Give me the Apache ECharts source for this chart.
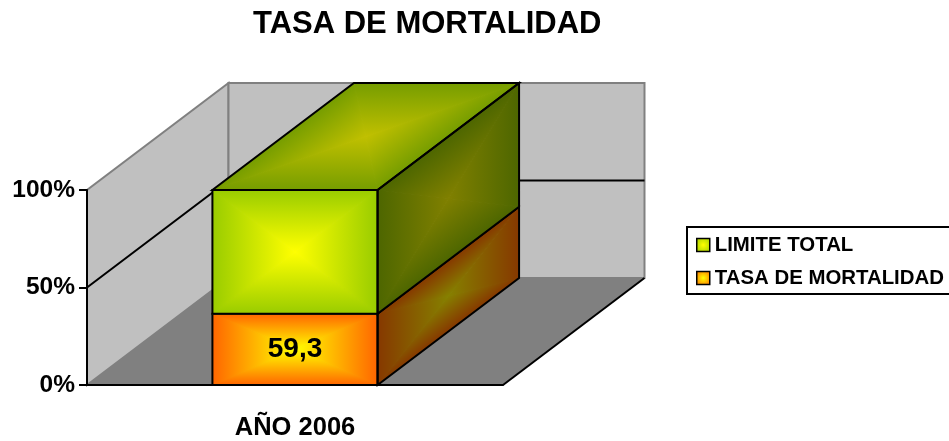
<!DOCTYPE html>
<html>
<head>
<meta charset="utf-8">
<title>Tasa de mortalidad</title>
<script src="https://cdn.jsdelivr.net/npm/echarts@6/dist/echarts.min.js"></script>
<style>
    html, body { margin: 0; padding: 0; background: #fff; }
    #main { width: 949px; height: 441px; }
</style>
</head>
<body>
<div id="main"></div>
<script>
// datos
var categories = ['AÑO 2006']
var limiteTotal = [103]
var tasaMortalidad = [59.3]
var yTicks = [0, 50, 100]

var FONT = '"Liberation Sans", Arial, Helvetica, sans-serif'
// desplazamiento de profundidad (efecto 3D)
var DEPTH_X = 141.5
var DEPTH_Y = -107
var BAR_RATIO = 0.397

// apilado 100%
var totals = categories.map(function (c, i) { return tasaMortalidad[i] + limiteTotal[i] })
var tasaData = categories.map(function (c, i) {
    return [i, 0, tasaMortalidad[i] / totals[i] * 100, tasaMortalidad[i]]
})
var limiteData = categories.map(function (c, i) {
    return [i, tasaMortalidad[i] / totals[i] * 100, 100, limiteTotal[i]]
})

// degradado rectangular "desde el centro", como en Excel
function shadedFace(pts, center, edge) {
    var n = pts.length
    var m = [0, 0]
    pts.forEach(function (p) { m[0] += p[0] / n; m[1] += p[1] / n })
    var out = []
    for (var i = 0; i < n; i++) {
        var P = pts[i], Q = pts[(i + 1) % n]
        var dx = Q[0] - P[0], dy = Q[1] - P[1]
        var t = ((m[0] - P[0]) * dx + (m[1] - P[1]) * dy) / (dx * dx + dy * dy)
        var f = [P[0] + t * dx, P[1] + t * dy]
        var grad = new echarts.graphic.LinearGradient(f[0], f[1], m[0], m[1], [
            {offset: 0, color: edge}, {offset: 1, color: center}
        ], true)
        out.push({
            type: 'polygon',
            shape: {points: [P, Q, m]},
            style: {fill: grad, stroke: grad, lineWidth: 1}
        })
    }
    return out
}

function outline(pts) {
    return {type: 'polygon', shape: {points: pts}, style: {fill: null, stroke: '#000', lineWidth: 2}}
}

function barRenderer(colors, isTop, showLabel) {
    return function (params, api) {
        var cat = api.value(0)
        var p0 = api.coord([cat, api.value(1)])
        var p1 = api.coord([cat, api.value(2)])
        var bw = api.size([1, 0])[0] * BAR_RATIO
        var xl = p0[0] - bw / 2, xr = p0[0] + bw / 2
        var yb = p0[1], yt = p1[1]
        var dx = DEPTH_X, dy = DEPTH_Y

        var front = [[xl, yt], [xr, yt], [xr, yb], [xl, yb]]
        var side = [[xr, yt], [xr + dx, yt + dy], [xr + dx, yb + dy], [xr, yb]]
        var top = [[xl, yt], [xr, yt], [xr + dx, yt + dy], [xl + dx, yt + dy]]

        var children = []
        children = children.concat(shadedFace(side, colors.sideC, colors.sideE))
        if (isTop) children = children.concat(shadedFace(top, colors.topC, colors.topE))
        children = children.concat(shadedFace(front, colors.frontC, colors.frontE))
        children.push(outline(side))
        if (isTop) children.push(outline(top))
        children.push(outline(front))
        if (showLabel) {
            children.push({
                type: 'text',
                style: {
                    text: String(api.value(3)).replace('.', ','),
                    x: (xl + xr) / 2, y: (yt + yb) / 2,
                    align: 'center', verticalAlign: 'middle',
                    fontFamily: FONT, fontWeight: 'bold', fontSize: 28, fill: '#000'
                }
            })
        }
        return {type: 'group', children: children}
    }
}

function renderWalls(params, api) {
    var cs = params.coordSys
    var x0 = cs.x, x1 = cs.x + cs.width
    var yAt = function (v) { return api.coord([0, v])[1] }
    var yb = yAt(yTicks[0]), yt = yAt(yTicks[yTicks.length - 1])
    var dx = DEPTH_X, dy = DEPTH_Y
    var children = [
        {type: 'polygon', shape: {points: [[x0, yb], [x1, yb], [x1 + dx, yb + dy], [x0 + dx, yb + dy]]},
            style: {fill: '#808080', stroke: '#9a9a9a', lineWidth: 1}},
        {type: 'polygon', shape: {points: [[x0, yb], [x0, yt], [x0 + dx, yt + dy], [x0 + dx, yb + dy]]},
            style: {fill: '#c0c0c0', stroke: '#808080', lineWidth: 2}},
        {type: 'polygon', shape: {points: [[x0 + dx, yt + dy], [x1 + dx, yt + dy], [x1 + dx, yb + dy], [x0 + dx, yb + dy]]},
            style: {fill: '#c0c0c0', stroke: '#808080', lineWidth: 2}}
    ]
    yTicks.slice(1, -1).forEach(function (v) {
        var y = yAt(v)
        children.push({type: 'polyline', shape: {points: [[x0, y], [x0 + dx, y + dy], [x1 + dx, y + dy]]},
            style: {stroke: '#000', lineWidth: 2, fill: null}})
    })
    children.push({type: 'line', shape: {x1: x1, y1: yb, x2: x1 + dx, y2: yb + dy},
        style: {stroke: '#000', lineWidth: 2}})
    return {type: 'group', children: children}
}

var greenColors = {
    frontC: '#ffff00', frontE: '#99cc00',
    sideC: '#808000', sideE: '#4d6600',
    topC: '#c0c000', topE: '#769d00'
}
var orangeColors = {
    frontC: '#ffff00', frontE: '#ff6600',
    sideC: '#868000', sideE: '#863800',
    topC: '#c0c000', topE: '#c04e00'
}

var myChart = echarts.init(document.getElementById('main'))

myChart.setOption({
    animation: false,
    backgroundColor: '#fff',
    title: {
        text: 'TASA DE MORTALIDAD',
        left: 253,
        top: 9,
        padding: 0,
        textStyle: {fontFamily: FONT, fontWeight: 'bold', fontSize: 31, color: '#000'}
    },
    legend: {
        data: ['LIMITE TOTAL', 'TASA DE MORTALIDAD'],
        orient: 'vertical',
        left: 687,
        top: 227,
        padding: [8, 14, 6, 9],
        itemWidth: 13,
        itemHeight: 13,
        itemGap: 13,
        icon: 'rect',
        selectedMode: false,
        borderColor: '#000',
        borderWidth: 2,
        backgroundColor: '#fff',
        itemStyle: {borderColor: '#000', borderWidth: 1.5},
        textStyle: {fontFamily: FONT, fontWeight: 'bold', fontSize: 20.4, color: '#000', lineHeight: 20}
    },
    grid: {left: 87, top: 190, width: 416, height: 195},
    xAxis: {
        type: 'category',
        data: categories,
        z: 3,
        axisLine: {lineStyle: {color: '#000', width: 2}},
        axisTick: {length: 7, lineStyle: {color: '#000', width: 2}},
        axisLabel: {color: '#000', fontFamily: FONT, fontWeight: 'bold', fontSize: 25.5, margin: 30}
    },
    yAxis: {
        type: 'value',
        min: 0,
        max: 100,
        interval: 50,
        z: 3,
        axisLine: {show: true, lineStyle: {color: '#000', width: 2}},
        axisTick: {show: true, length: 8, lineStyle: {color: '#000', width: 2}},
        axisLabel: {formatter: '{value}%', color: '#000', fontFamily: FONT, fontWeight: 'bold', fontSize: 24.5, margin: 12},
        splitLine: {show: false}
    },
    series: [
        {
            name: 'paredes',
            type: 'custom',
            z: 1,
            silent: true,
            renderItem: renderWalls,
            data: [[0, 0]]
        },
        {
            name: 'TASA DE MORTALIDAD',
            type: 'custom',
            z: 2,
            renderItem: barRenderer(orangeColors, false, true),
            itemStyle: {
                color: new echarts.graphic.RadialGradient(0.5, 0.5, 0.7, [
                    {offset: 0, color: '#ffff00'}, {offset: 1, color: '#ff6600'}
                ])
            },
            data: tasaData
        },
        {
            name: 'LIMITE TOTAL',
            type: 'custom',
            z: 2,
            renderItem: barRenderer(greenColors, true, false),
            itemStyle: {
                color: new echarts.graphic.RadialGradient(0.5, 0.5, 0.7, [
                    {offset: 0, color: '#ffff00'}, {offset: 1, color: '#99cc00'}
                ])
            },
            data: limiteData
        }
    ]
})
</script>
</body>
</html>
